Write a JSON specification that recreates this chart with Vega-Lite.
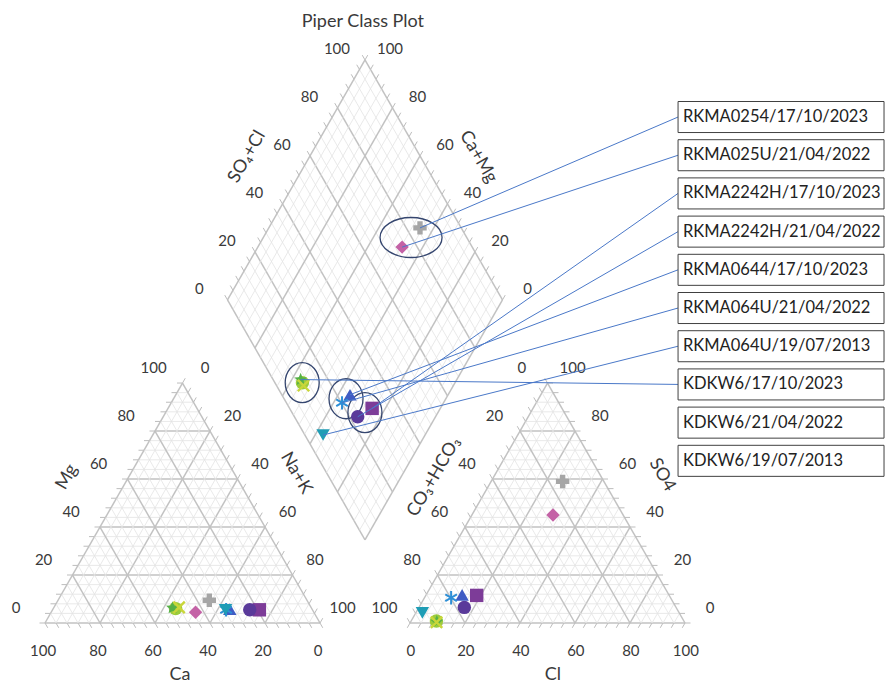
{
"$schema": "https://vega.github.io/schema/vega-lite/v6.json",
"width": 885, "height": 687, "autosize": {"type": "none"}, "padding": 0, "background": "white",
"config": {"view": {"stroke": null}},
"datasets": {
"levels": [{"v":4},{"v":8},{"v":12},{"v":16},{"v":24},{"v":28},{"v":32},{"v":36},{"v":44},{"v":48},{"v":52},{"v":56},{"v":64},{"v":68},{"v":72},{"v":76},{"v":84},{"v":88},{"v":92},{"v":96},{"v":0},{"v":20},{"v":40},{"v":60},{"v":80},{"v":100}],
"samples": [
{"i":1,"id":"RKMA0254/17/10/2023","Ca":35.5,"Mg":9.5,"NaK":55,"HCO3":15,"SO4":59,"Cl":26,"grp":"g1"},
{"i":2,"id":"RKMA025U/21/04/2022","Ca":43,"Mg":4.5,"NaK":52.5,"HCO3":25.5,"SO4":45,"Cl":29.5,"grp":"g1"},
{"i":3,"id":"RKMA2242H/17/10/2023","Ca":19.3,"Mg":5.5,"NaK":75.2,"HCO3":70,"SO4":11.5,"Cl":18.5,"grp":"g4"},
{"i":4,"id":"RKMA2242H/21/04/2022","Ca":22.8,"Mg":5.5,"NaK":71.7,"HCO3":77,"SO4":6.5,"Cl":16.5,"grp":"g4"},
{"i":5,"id":"RKMA0644/17/10/2023","Ca":29.9,"Mg":5.8,"NaK":64.3,"HCO3":75.2,"SO4":11.7,"Cl":13.1,"grp":"g3"},
{"i":6,"id":"RKMA064U/21/04/2022","Ca":31.4,"Mg":5.5,"NaK":63.1,"HCO3":79.8,"SO4":10.5,"Cl":9.7,"grp":"g3"},
{"i":7,"id":"RKMA064U/19/07/2013","Ca":31.6,"Mg":5.5,"NaK":62.9,"HCO3":93.4,"SO4":4.2,"Cl":2.4,"grp":"none"},
{"i":9,"id":"KDKW6/21/04/2022","Ca":49.5,"Mg":6,"NaK":44.5,"HCO3":90,"SO4":0.8,"Cl":9.2,"grp":"g2"},
{"i":8,"id":"KDKW6/17/10/2023","Ca":50.5,"Mg":6.3,"NaK":43.2,"HCO3":90,"SO4":0.5,"Cl":9.5,"grp":"g2"},
{"i":10,"id":"KDKW6/19/07/2013","Ca":48,"Mg":6.5,"NaK":45.5,"HCO3":90.2,"SO4":0.3,"Cl":9.5,"grp":"g2"}
]
},
"layer": [
{"data":{"name":"levels"},"transform":[{"calculate":"datum.v/2","as":"x1"},{"calculate":"0.866*datum.v","as":"y1"},{"calculate":"100-datum.v/2","as":"x2"},{"calculate":"0.866*datum.v","as":"y2"}],
"mark":{"type":"rule"},"encoding":{"x":{"field":"x1","type":"quantitative","scale":{"domain":[-16.364,305.455],"nice":false,"zero":false},"axis":null},"y":{"field":"y1","type":"quantitative","scale":{"domain":[-23.096,224.83],"nice":false,"zero":false},"axis":null},"x2":{"field":"x2"},"y2":{"field":"y2"},
"stroke":{"condition":{"test":"datum.v % 20 == 0","value":"#c2c2c2"},"value":"#e3e3e3"},"strokeWidth":{"condition":{"test":"datum.v % 20 == 0","value":1.5},"value":0.8}}},
{"data":{"name":"levels"},"transform":[{"calculate":"datum.v","as":"x1"},{"calculate":"0","as":"y1"},{"calculate":"50+datum.v/2","as":"x2"},{"calculate":"86.6-0.866*datum.v","as":"y2"}],
"mark":{"type":"rule"},"encoding":{"x":{"field":"x1","type":"quantitative","scale":{"domain":[-16.364,305.455],"nice":false,"zero":false},"axis":null},"y":{"field":"y1","type":"quantitative","scale":{"domain":[-23.096,224.83],"nice":false,"zero":false},"axis":null},"x2":{"field":"x2"},"y2":{"field":"y2"},
"stroke":{"condition":{"test":"datum.v % 20 == 0","value":"#c2c2c2"},"value":"#e3e3e3"},"strokeWidth":{"condition":{"test":"datum.v % 20 == 0","value":1.5},"value":0.8}}},
{"data":{"name":"levels"},"transform":[{"calculate":"100-datum.v","as":"x1"},{"calculate":"0","as":"y1"},{"calculate":"50-datum.v/2","as":"x2"},{"calculate":"86.6-0.866*datum.v","as":"y2"}],
"mark":{"type":"rule"},"encoding":{"x":{"field":"x1","type":"quantitative","scale":{"domain":[-16.364,305.455],"nice":false,"zero":false},"axis":null},"y":{"field":"y1","type":"quantitative","scale":{"domain":[-23.096,224.83],"nice":false,"zero":false},"axis":null},"x2":{"field":"x2"},"y2":{"field":"y2"},
"stroke":{"condition":{"test":"datum.v % 20 == 0","value":"#c2c2c2"},"value":"#e3e3e3"},"strokeWidth":{"condition":{"test":"datum.v % 20 == 0","value":1.5},"value":0.8}}},
{"data":{"name":"levels"},"transform":[{"calculate":"132.73+datum.v/2","as":"x1"},{"calculate":"0.866*datum.v","as":"y1"},{"calculate":"232.73-datum.v/2","as":"x2"},{"calculate":"0.866*datum.v","as":"y2"}],
"mark":{"type":"rule"},"encoding":{"x":{"field":"x1","type":"quantitative","scale":{"domain":[-16.364,305.455],"nice":false,"zero":false},"axis":null},"y":{"field":"y1","type":"quantitative","scale":{"domain":[-23.096,224.83],"nice":false,"zero":false},"axis":null},"x2":{"field":"x2"},"y2":{"field":"y2"},
"stroke":{"condition":{"test":"datum.v % 20 == 0","value":"#c2c2c2"},"value":"#e3e3e3"},"strokeWidth":{"condition":{"test":"datum.v % 20 == 0","value":1.5},"value":0.8}}},
{"data":{"name":"levels"},"transform":[{"calculate":"132.73+datum.v","as":"x1"},{"calculate":"0","as":"y1"},{"calculate":"182.73+datum.v/2","as":"x2"},{"calculate":"86.6-0.866*datum.v","as":"y2"}],
"mark":{"type":"rule"},"encoding":{"x":{"field":"x1","type":"quantitative","scale":{"domain":[-16.364,305.455],"nice":false,"zero":false},"axis":null},"y":{"field":"y1","type":"quantitative","scale":{"domain":[-23.096,224.83],"nice":false,"zero":false},"axis":null},"x2":{"field":"x2"},"y2":{"field":"y2"},
"stroke":{"condition":{"test":"datum.v % 20 == 0","value":"#c2c2c2"},"value":"#e3e3e3"},"strokeWidth":{"condition":{"test":"datum.v % 20 == 0","value":1.5},"value":0.8}}},
{"data":{"name":"levels"},"transform":[{"calculate":"232.73-datum.v","as":"x1"},{"calculate":"0","as":"y1"},{"calculate":"182.73-datum.v/2","as":"x2"},{"calculate":"86.6-0.866*datum.v","as":"y2"}],
"mark":{"type":"rule"},"encoding":{"x":{"field":"x1","type":"quantitative","scale":{"domain":[-16.364,305.455],"nice":false,"zero":false},"axis":null},"y":{"field":"y1","type":"quantitative","scale":{"domain":[-23.096,224.83],"nice":false,"zero":false},"axis":null},"x2":{"field":"x2"},"y2":{"field":"y2"},
"stroke":{"condition":{"test":"datum.v % 20 == 0","value":"#c2c2c2"},"value":"#e3e3e3"},"strokeWidth":{"condition":{"test":"datum.v % 20 == 0","value":1.5},"value":0.8}}},
{"data":{"name":"levels"},"transform":[{"calculate":"116.36+datum.v/2","as":"x1"},{"calculate":"30+0.866*datum.v","as":"y1"},{"calculate":"66.36+datum.v/2","as":"x2"},{"calculate":"116.6+0.866*datum.v","as":"y2"}],
"mark":{"type":"rule"},"encoding":{"x":{"field":"x1","type":"quantitative","scale":{"domain":[-16.364,305.455],"nice":false,"zero":false},"axis":null},"y":{"field":"y1","type":"quantitative","scale":{"domain":[-23.096,224.83],"nice":false,"zero":false},"axis":null},"x2":{"field":"x2"},"y2":{"field":"y2"},
"stroke":{"condition":{"test":"datum.v % 20 == 0","value":"#c2c2c2"},"value":"#e3e3e3"},"strokeWidth":{"condition":{"test":"datum.v % 20 == 0","value":1.5},"value":0.8}}},
{"data":{"name":"levels"},"transform":[{"calculate":"116.36-datum.v/2","as":"x1"},{"calculate":"30+0.866*datum.v","as":"y1"},{"calculate":"166.36-datum.v/2","as":"x2"},{"calculate":"116.6+0.866*datum.v","as":"y2"}],
"mark":{"type":"rule"},"encoding":{"x":{"field":"x1","type":"quantitative","scale":{"domain":[-16.364,305.455],"nice":false,"zero":false},"axis":null},"y":{"field":"y1","type":"quantitative","scale":{"domain":[-23.096,224.83],"nice":false,"zero":false},"axis":null},"x2":{"field":"x2"},"y2":{"field":"y2"},
"stroke":{"condition":{"test":"datum.v % 20 == 0","value":"#c2c2c2"},"value":"#e3e3e3"},"strokeWidth":{"condition":{"test":"datum.v % 20 == 0","value":1.5},"value":0.8}}},

{"data":{"name":"levels"},"transform":[{"calculate":"datum.v/2","as":"x1"},{"calculate":"0.866*datum.v","as":"y1"},{"calculate":"datum.x1-2","as":"x2"},{"calculate":"datum.y1","as":"y2"}],
"mark":{"type":"rule","stroke":"#bdbdbd","strokeWidth":1},"encoding":{"x":{"field":"x1","type":"quantitative","scale":{"domain":[-16.364,305.455],"nice":false,"zero":false},"axis":null},"y":{"field":"y1","type":"quantitative","scale":{"domain":[-23.096,224.83],"nice":false,"zero":false},"axis":null},"x2":{"field":"x2"},"y2":{"field":"y2"}}},
{"data":{"name":"levels"},"transform":[{"calculate":"50+datum.v/2","as":"x1"},{"calculate":"86.6-0.866*datum.v","as":"y1"},{"calculate":"datum.x1+1","as":"x2"},{"calculate":"datum.y1+1.732","as":"y2"}],
"mark":{"type":"rule","stroke":"#bdbdbd","strokeWidth":1},"encoding":{"x":{"field":"x1","type":"quantitative","scale":{"domain":[-16.364,305.455],"nice":false,"zero":false},"axis":null},"y":{"field":"y1","type":"quantitative","scale":{"domain":[-23.096,224.83],"nice":false,"zero":false},"axis":null},"x2":{"field":"x2"},"y2":{"field":"y2"}}},
{"data":{"name":"levels"},"transform":[{"calculate":"100-datum.v","as":"x1"},{"calculate":"0","as":"y1"},{"calculate":"datum.x1+1","as":"x2"},{"calculate":"-1.732","as":"y2"}],
"mark":{"type":"rule","stroke":"#bdbdbd","strokeWidth":1},"encoding":{"x":{"field":"x1","type":"quantitative","scale":{"domain":[-16.364,305.455],"nice":false,"zero":false},"axis":null},"y":{"field":"y1","type":"quantitative","scale":{"domain":[-23.096,224.83],"nice":false,"zero":false},"axis":null},"x2":{"field":"x2"},"y2":{"field":"y2"}}},
{"data":{"name":"levels"},"transform":[{"calculate":"232.73-datum.v/2","as":"x1"},{"calculate":"0.866*datum.v","as":"y1"},{"calculate":"datum.x1+2","as":"x2"},{"calculate":"datum.y1","as":"y2"}],
"mark":{"type":"rule","stroke":"#bdbdbd","strokeWidth":1},"encoding":{"x":{"field":"x1","type":"quantitative","scale":{"domain":[-16.364,305.455],"nice":false,"zero":false},"axis":null},"y":{"field":"y1","type":"quantitative","scale":{"domain":[-23.096,224.83],"nice":false,"zero":false},"axis":null},"x2":{"field":"x2"},"y2":{"field":"y2"}}},
{"data":{"name":"levels"},"transform":[{"calculate":"132.73+datum.v","as":"x1"},{"calculate":"0","as":"y1"},{"calculate":"datum.x1-1","as":"x2"},{"calculate":"-1.732","as":"y2"}],
"mark":{"type":"rule","stroke":"#bdbdbd","strokeWidth":1},"encoding":{"x":{"field":"x1","type":"quantitative","scale":{"domain":[-16.364,305.455],"nice":false,"zero":false},"axis":null},"y":{"field":"y1","type":"quantitative","scale":{"domain":[-23.096,224.83],"nice":false,"zero":false},"axis":null},"x2":{"field":"x2"},"y2":{"field":"y2"}}},
{"data":{"name":"levels"},"transform":[{"calculate":"182.73-datum.v/2","as":"x1"},{"calculate":"86.6-0.866*datum.v","as":"y1"},{"calculate":"datum.x1-1","as":"x2"},{"calculate":"datum.y1+1.732","as":"y2"}],
"mark":{"type":"rule","stroke":"#bdbdbd","strokeWidth":1},"encoding":{"x":{"field":"x1","type":"quantitative","scale":{"domain":[-16.364,305.455],"nice":false,"zero":false},"axis":null},"y":{"field":"y1","type":"quantitative","scale":{"domain":[-23.096,224.83],"nice":false,"zero":false},"axis":null},"x2":{"field":"x2"},"y2":{"field":"y2"}}},
{"data":{"name":"levels"},"transform":[{"calculate":"66.36+datum.v/2","as":"x1"},{"calculate":"116.6+0.866*datum.v","as":"y1"},{"calculate":"datum.x1-1","as":"x2"},{"calculate":"datum.y1+1.732","as":"y2"}],
"mark":{"type":"rule","stroke":"#bdbdbd","strokeWidth":1},"encoding":{"x":{"field":"x1","type":"quantitative","scale":{"domain":[-16.364,305.455],"nice":false,"zero":false},"axis":null},"y":{"field":"y1","type":"quantitative","scale":{"domain":[-23.096,224.83],"nice":false,"zero":false},"axis":null},"x2":{"field":"x2"},"y2":{"field":"y2"}}},
{"data":{"name":"levels"},"transform":[{"calculate":"166.36-datum.v/2","as":"x1"},{"calculate":"116.6+0.866*datum.v","as":"y1"},{"calculate":"datum.x1+1","as":"x2"},{"calculate":"datum.y1+1.732","as":"y2"}],
"mark":{"type":"rule","stroke":"#bdbdbd","strokeWidth":1},"encoding":{"x":{"field":"x1","type":"quantitative","scale":{"domain":[-16.364,305.455],"nice":false,"zero":false},"axis":null},"y":{"field":"y1","type":"quantitative","scale":{"domain":[-23.096,224.83],"nice":false,"zero":false},"axis":null},"x2":{"field":"x2"},"y2":{"field":"y2"}}},

{"data":{"name":"levels"},"transform":[{"filter":"datum.v % 20 == 0"},{"calculate":"datum.v/2-10.5","as":"lx"},{"calculate":"0.866*datum.v+5.4","as":"ly"}],
"mark":{"type":"text","font":"Lato","fontSize":15,"fill":"#3a3a3a"},"encoding":{"x":{"field":"lx","type":"quantitative","scale":{"domain":[-16.364,305.455],"nice":false,"zero":false},"axis":null},"y":{"field":"ly","type":"quantitative","scale":{"domain":[-23.096,224.83],"nice":false,"zero":false},"axis":null},"text":{"field":"v","type":"nominal"}}},
{"data":{"name":"levels"},"transform":[{"filter":"datum.v % 20 == 0"},{"calculate":"58.2+datum.v/2","as":"lx"},{"calculate":"92-0.866*datum.v","as":"ly"}],
"mark":{"type":"text","font":"Lato","fontSize":15,"fill":"#3a3a3a"},"encoding":{"x":{"field":"lx","type":"quantitative","scale":{"domain":[-16.364,305.455],"nice":false,"zero":false},"axis":null},"y":{"field":"ly","type":"quantitative","scale":{"domain":[-23.096,224.83],"nice":false,"zero":false},"axis":null},"text":{"field":"v","type":"nominal"}}},
{"data":{"name":"levels"},"transform":[{"filter":"datum.v % 20 == 0"},{"calculate":"99.3-datum.v","as":"lx"},{"calculate":"-10.1","as":"ly"}],
"mark":{"type":"text","font":"Lato","fontSize":15,"fill":"#3a3a3a"},"encoding":{"x":{"field":"lx","type":"quantitative","scale":{"domain":[-16.364,305.455],"nice":false,"zero":false},"axis":null},"y":{"field":"ly","type":"quantitative","scale":{"domain":[-23.096,224.83],"nice":false,"zero":false},"axis":null},"text":{"field":"v","type":"nominal"}}},
{"data":{"name":"levels"},"transform":[{"filter":"datum.v % 20 == 0"},{"calculate":"241.83-datum.v/2","as":"lx"},{"calculate":"0.866*datum.v+5.4","as":"ly"}],
"mark":{"type":"text","font":"Lato","fontSize":15,"fill":"#3a3a3a"},"encoding":{"x":{"field":"lx","type":"quantitative","scale":{"domain":[-16.364,305.455],"nice":false,"zero":false},"axis":null},"y":{"field":"ly","type":"quantitative","scale":{"domain":[-23.096,224.83],"nice":false,"zero":false},"axis":null},"text":{"field":"v","type":"nominal"}}},
{"data":{"name":"levels"},"transform":[{"filter":"datum.v % 20 == 0"},{"calculate":"133.03+datum.v","as":"lx"},{"calculate":"-10.1","as":"ly"}],
"mark":{"type":"text","font":"Lato","fontSize":15,"fill":"#3a3a3a"},"encoding":{"x":{"field":"lx","type":"quantitative","scale":{"domain":[-16.364,305.455],"nice":false,"zero":false},"axis":null},"y":{"field":"ly","type":"quantitative","scale":{"domain":[-23.096,224.83],"nice":false,"zero":false},"axis":null},"text":{"field":"v","type":"nominal"}}},
{"data":{"name":"levels"},"transform":[{"filter":"datum.v % 20 == 0"},{"calculate":"173.43-datum.v/2","as":"lx"},{"calculate":"92-0.866*datum.v","as":"ly"}],
"mark":{"type":"text","font":"Lato","fontSize":15,"fill":"#3a3a3a"},"encoding":{"x":{"field":"lx","type":"quantitative","scale":{"domain":[-16.364,305.455],"nice":false,"zero":false},"axis":null},"y":{"field":"ly","type":"quantitative","scale":{"domain":[-23.096,224.83],"nice":false,"zero":false},"axis":null},"text":{"field":"v","type":"nominal"}}},
{"data":{"name":"levels"},"transform":[{"filter":"datum.v % 20 == 0"},{"calculate":"56.16+datum.v/2","as":"lx"},{"calculate":"120.6+0.866*datum.v","as":"ly"}],
"mark":{"type":"text","font":"Lato","fontSize":15,"fill":"#3a3a3a"},"encoding":{"x":{"field":"lx","type":"quantitative","scale":{"domain":[-16.364,305.455],"nice":false,"zero":false},"axis":null},"y":{"field":"ly","type":"quantitative","scale":{"domain":[-23.096,224.83],"nice":false,"zero":false},"axis":null},"text":{"field":"v","type":"nominal"}}},
{"data":{"name":"levels"},"transform":[{"filter":"datum.v % 20 == 0"},{"calculate":"175.46-datum.v/2","as":"lx"},{"calculate":"120.6+0.866*datum.v","as":"ly"}],
"mark":{"type":"text","font":"Lato","fontSize":15,"fill":"#3a3a3a"},"encoding":{"x":{"field":"lx","type":"quantitative","scale":{"domain":[-16.364,305.455],"nice":false,"zero":false},"axis":null},"y":{"field":"ly","type":"quantitative","scale":{"domain":[-23.096,224.83],"nice":false,"zero":false},"axis":null},"text":{"field":"v","type":"nominal"}}},

{"data":{"values":[{}]},"mark":{"type":"text","font":"Lato","fontSize":18,"fill":"#3a3a3a"},"encoding":{"x":{"datum":115.6,"type":"quantitative","scale":{"domain":[-16.364,305.455],"nice":false,"zero":false},"axis":null},"y":{"datum":216.9,"type":"quantitative","scale":{"domain":[-23.096,224.83],"nice":false,"zero":false},"axis":null},"text":{"value":"Piper Class Plot"}}},
{"data":{"values":[{}]},"mark":{"type":"text","font":"Lato","fontSize":18,"fill":"#3a3a3a"},"encoding":{"x":{"datum":49.1,"type":"quantitative","scale":{"domain":[-16.364,305.455],"nice":false,"zero":false},"axis":null},"y":{"datum":-18.8,"type":"quantitative","scale":{"domain":[-23.096,224.83],"nice":false,"zero":false},"axis":null},"text":{"value":"Ca"}}},
{"data":{"values":[{}]},"mark":{"type":"text","font":"Lato","fontSize":18,"fill":"#3a3a3a"},"encoding":{"x":{"datum":184.7,"type":"quantitative","scale":{"domain":[-16.364,305.455],"nice":false,"zero":false},"axis":null},"y":{"datum":-18.8,"type":"quantitative","scale":{"domain":[-23.096,224.83],"nice":false,"zero":false},"axis":null},"text":{"value":"Cl"}}},
{"data":{"values":[{}]},"mark":{"type":"text","font":"Lato","fontSize":18,"fill":"#3a3a3a","angle":-60},"encoding":{"x":{"datum":8.0,"type":"quantitative","scale":{"domain":[-16.364,305.455],"nice":false,"zero":false},"axis":null},"y":{"datum":52.7,"type":"quantitative","scale":{"domain":[-23.096,224.83],"nice":false,"zero":false},"axis":null},"text":{"value":"Mg"}}},
{"data":{"values":[{}]},"mark":{"type":"text","font":"Lato","fontSize":18,"fill":"#3a3a3a","angle":60},"encoding":{"x":{"datum":91.3,"type":"quantitative","scale":{"domain":[-16.364,305.455],"nice":false,"zero":false},"axis":null},"y":{"datum":54.1,"type":"quantitative","scale":{"domain":[-23.096,224.83],"nice":false,"zero":false},"axis":null},"text":{"value":"Na+K"}}},
{"data":{"values":[{}]},"mark":{"type":"text","font":"Lato","fontSize":18,"fill":"#3a3a3a","angle":-60},"encoding":{"x":{"datum":141.5,"type":"quantitative","scale":{"domain":[-16.364,305.455],"nice":false,"zero":false},"axis":null},"y":{"datum":52.7,"type":"quantitative","scale":{"domain":[-23.096,224.83],"nice":false,"zero":false},"axis":null},"text":{"value":"CO₃+HCO₃"}}},
{"data":{"values":[{}]},"mark":{"type":"text","font":"Lato","fontSize":18,"fill":"#3a3a3a","angle":60},"encoding":{"x":{"datum":224.4,"type":"quantitative","scale":{"domain":[-16.364,305.455],"nice":false,"zero":false},"axis":null},"y":{"datum":53.4,"type":"quantitative","scale":{"domain":[-23.096,224.83],"nice":false,"zero":false},"axis":null},"text":{"value":"SO4"}}},
{"data":{"values":[{}]},"mark":{"type":"text","font":"Lato","fontSize":18,"fill":"#3a3a3a","angle":-60},"encoding":{"x":{"datum":73.5,"type":"quantitative","scale":{"domain":[-16.364,305.455],"nice":false,"zero":false},"axis":null},"y":{"datum":168.2,"type":"quantitative","scale":{"domain":[-23.096,224.83],"nice":false,"zero":false},"axis":null},"text":{"value":"SO₄+Cl"}}},
{"data":{"values":[{}]},"mark":{"type":"text","font":"Lato","fontSize":18,"fill":"#3a3a3a","angle":60},"encoding":{"x":{"datum":157.5,"type":"quantitative","scale":{"domain":[-16.364,305.455],"nice":false,"zero":false},"axis":null},"y":{"datum":168.2,"type":"quantitative","scale":{"domain":[-23.096,224.83],"nice":false,"zero":false},"axis":null},"text":{"value":"Ca+Mg"}}},

{"data":{"name":"samples"},"transform":[{"filter":"datum.grp == 'g1'"},{"calculate":"116.36+0.5*(datum.SO4+datum.Cl)-0.5*(datum.Ca+datum.Mg)","as":"edx"},{"calculate":"30+0.866*(datum.SO4+datum.Cl+datum.Ca+datum.Mg)","as":"edy"},{"aggregate":[{"op":"mean","field":"edx","as":"ex"},{"op":"mean","field":"edy","as":"ey"}],"groupby":["grp"]}],
"mark":{"type":"point","shape":"M-1,0A1,0.645,0,1,0,1,0A1,0.645,0,1,0,-1,0Z","size":3844,"filled":false,"stroke":"#35466f","strokeWidth":1.3,"opacity":1},
"encoding":{"x":{"field":"ex","type":"quantitative","scale":{"domain":[-16.364,305.455],"nice":false,"zero":false},"axis":null},"y":{"field":"ey","type":"quantitative","scale":{"domain":[-23.096,224.83],"nice":false,"zero":false},"axis":null}}},
{"data":{"name":"samples"},"transform":[{"filter":"datum.grp == 'g2' || datum.grp == 'g3' || datum.grp == 'g4'"},{"calculate":"116.36+0.5*(datum.SO4+datum.Cl)-0.5*(datum.Ca+datum.Mg)","as":"fdx"},{"calculate":"30+0.866*(datum.SO4+datum.Cl+datum.Ca+datum.Mg)","as":"fdy"},{"aggregate":[{"op":"mean","field":"fdx","as":"fx"},{"op":"mean","field":"fdy","as":"fy"}],"groupby":["grp"]}],
"mark":{"type":"point","shape":"M-0.85,0A0.85,1,0,1,0,0.85,0A0.85,1,0,1,0,-0.85,0Z","size":1600,"filled":false,"stroke":"#35466f","strokeWidth":1.3,"opacity":1},
"encoding":{"x":{"field":"fx","type":"quantitative","scale":{"domain":[-16.364,305.455],"nice":false,"zero":false},"axis":null},"y":{"field":"fy","type":"quantitative","scale":{"domain":[-23.096,224.83],"nice":false,"zero":false},"axis":null}}},

{"data":{"name":"samples"},"transform":[{"calculate":"datum.NaK+datum.Mg/2","as":"lpx"},{"calculate":"0.866*datum.Mg","as":"lpy"}],
"mark":{"type":"point","filled":true,"opacity":1,"size":180},
"encoding":{"x":{"field":"lpx","type":"quantitative","scale":{"domain":[-16.364,305.455],"nice":false,"zero":false},"axis":null},"y":{"field":"lpy","type":"quantitative","scale":{"domain":[-23.096,224.83],"nice":false,"zero":false},"axis":null},
"color":{"field":"id","type":"nominal","legend":null,"scale":{"domain":["RKMA0254/17/10/2023","RKMA025U/21/04/2022","RKMA2242H/17/10/2023","RKMA2242H/21/04/2022","RKMA0644/17/10/2023","RKMA064U/21/04/2022","RKMA064U/19/07/2013","KDKW6/17/10/2023","KDKW6/21/04/2022","KDKW6/19/07/2013"],"range":["#a6a6a6","#c462a6","#7d3c98","#5a3a9a","#3f5cc4","#2e8fd6","#1f9db5","#55b048","#9ccc3c","#c9d63a"]}},
"shape":{"field":"id","type":"nominal","legend":null,"scale":{"domain":["RKMA0254/17/10/2023","RKMA025U/21/04/2022","RKMA2242H/17/10/2023","RKMA2242H/21/04/2022","RKMA0644/17/10/2023","RKMA064U/21/04/2022","RKMA064U/19/07/2013","KDKW6/17/10/2023","KDKW6/21/04/2022","KDKW6/19/07/2013"],"range":["cross","diamond","square","circle","triangle-up","M-0.15,-1L0.15,-1L0.15,1L-0.15,1ZM0.791,-0.63L0.941,-0.37L-0.791,0.63L-0.941,0.37ZM0.941,0.37L0.791,0.63L-0.941,-0.37L-0.791,-0.63Z","triangle-down","M0,-1L0.265,-0.364L0.951,-0.309L0.428,0.139L0.588,0.809L0,0.45L-0.588,0.809L-0.428,0.139L-0.951,-0.309L-0.265,-0.364Z","circle","M0.721,-0.976L0.976,-0.721L-0.721,0.976L-0.976,0.721ZM-0.976,-0.721L-0.721,-0.976L0.976,0.721L0.721,0.976Z"]}}}},
{"data":{"name":"samples"},"transform":[{"calculate":"132.73+datum.Cl+datum.SO4/2","as":"rpx"},{"calculate":"0.866*datum.SO4","as":"rpy"}],
"mark":{"type":"point","filled":true,"opacity":1,"size":180},
"encoding":{"x":{"field":"rpx","type":"quantitative","scale":{"domain":[-16.364,305.455],"nice":false,"zero":false},"axis":null},"y":{"field":"rpy","type":"quantitative","scale":{"domain":[-23.096,224.83],"nice":false,"zero":false},"axis":null},
"color":{"field":"id","type":"nominal","legend":null},
"shape":{"field":"id","type":"nominal","legend":null}}},
{"data":{"name":"samples"},"transform":[{"calculate":"116.36+0.5*(datum.SO4+datum.Cl)-0.5*(datum.Ca+datum.Mg)","as":"dpx"},{"calculate":"30+0.866*(datum.SO4+datum.Cl+datum.Ca+datum.Mg)","as":"dpy"}],
"mark":{"type":"point","filled":true,"opacity":1,"size":180},
"encoding":{"x":{"field":"dpx","type":"quantitative","scale":{"domain":[-16.364,305.455],"nice":false,"zero":false},"axis":null},"y":{"field":"dpy","type":"quantitative","scale":{"domain":[-23.096,224.83],"nice":false,"zero":false},"axis":null},
"color":{"field":"id","type":"nominal","legend":null},
"shape":{"field":"id","type":"nominal","legend":null}}},

{"data":{"name":"samples"},"transform":[{"filter":"datum.i <= 8"},{"calculate":"116.36+0.5*(datum.SO4+datum.Cl)-0.5*(datum.Ca+datum.Mg)","as":"cpx"},{"calculate":"30+0.866*(datum.SO4+datum.Cl+datum.Ca+datum.Mg)","as":"cpy"},{"calculate":"182.6-(datum.i-1)*13.786","as":"cby"}],
"mark":{"type":"rule","stroke":"#4a78c8","strokeWidth":1},
"encoding":{"x":{"field":"cpx","type":"quantitative","scale":{"domain":[-16.364,305.455],"nice":false,"zero":false},"axis":null},"y":{"field":"cpy","type":"quantitative","scale":{"domain":[-23.096,224.83],"nice":false,"zero":false},"axis":null},"x2":{"datum":230.2},"y2":{"field":"cby"}}},
{"data":{"name":"samples"},"transform":[{"calculate":"182.6-(datum.i-1)*13.786+5.6","as":"bt"},{"calculate":"182.6-(datum.i-1)*13.786-5.6","as":"bb"}],
"mark":{"type":"rect","fill":"white","stroke":"#404040","strokeWidth":1},
"encoding":{"x":{"datum":230.2,"type":"quantitative","scale":{"domain":[-16.364,305.455],"nice":false,"zero":false},"axis":null},"x2":{"datum":305.1},"y":{"field":"bt","type":"quantitative","scale":{"domain":[-23.096,224.83],"nice":false,"zero":false},"axis":null},"y2":{"field":"bb"}}},
{"data":{"name":"samples"},"transform":[{"calculate":"182.6-(datum.i-1)*13.786","as":"tby"}],
"mark":{"type":"text","font":"Lato","fontSize":16.5,"fill":"#222222","align":"left","baseline":"middle"},
"encoding":{"x":{"datum":232.0,"type":"quantitative","scale":{"domain":[-16.364,305.455],"nice":false,"zero":false},"axis":null},"y":{"field":"tby","type":"quantitative","scale":{"domain":[-23.096,224.83],"nice":false,"zero":false},"axis":null},"text":{"field":"id","type":"nominal"}}}
]
}
